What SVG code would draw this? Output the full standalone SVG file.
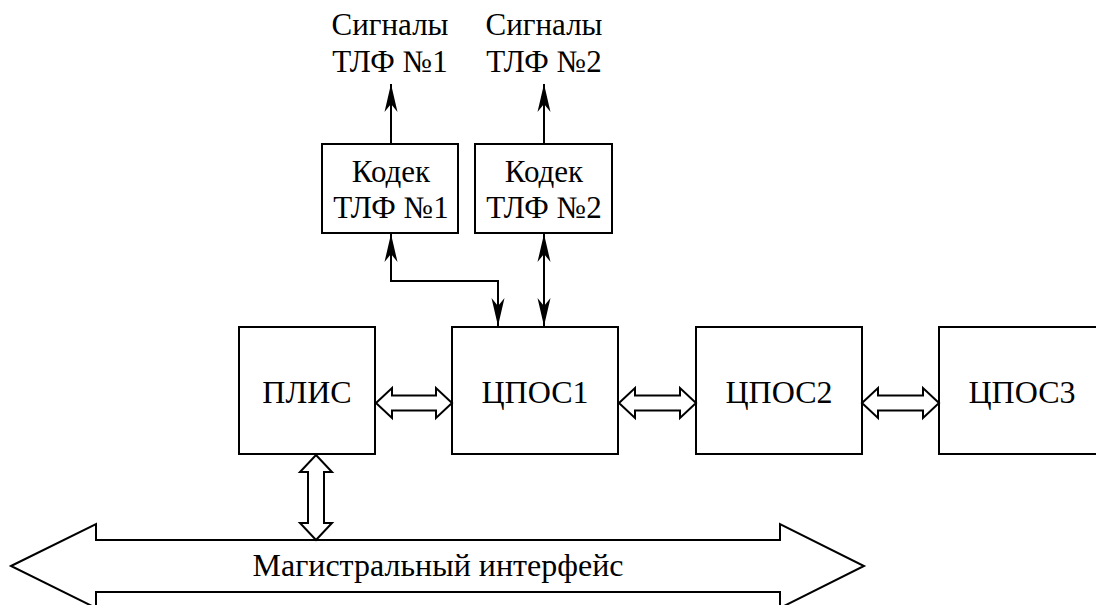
<svg xmlns="http://www.w3.org/2000/svg" width="1096" height="605" viewBox="0 0 1096 605">
<style>
.box{fill:#fff;stroke:#000;stroke-width:2}
.hol{fill:#fff;stroke:#000;stroke-width:2;stroke-linejoin:miter}
.ln{fill:none;stroke:#000;stroke-width:2}
text{font-family:'Liberation Serif','Times New Roman',serif;fill:#000;text-anchor:middle}
.big{font-size:32px}
.sm{font-size:31px}
</style>
<defs>
<marker id="ah" viewBox="0 0 28 14" refX="28" refY="7" markerWidth="28" markerHeight="14" markerUnits="userSpaceOnUse" orient="auto-start-reverse">
<path d="M28,7 L0,0.5 L8,7 L0,13.5 Z" fill="#000"/>
</marker>
</defs>
<rect width="1096" height="605" fill="#fff"/>
<g id="signals1"><text class="sm" x="390" y="35">Сигналы</text><text class="sm" x="390" y="72">ТЛФ №1</text></g>
<g id="signals2"><text class="sm" x="544" y="35">Сигналы</text><text class="sm" x="544" y="72">ТЛФ №2</text></g>
<g id="codec1"><rect class="box" x="322" y="144" width="136" height="89"/><text class="sm" x="391" y="182">Кодек</text><text class="sm" x="391" y="218">ТЛФ №1</text></g>
<g id="codec2"><rect class="box" x="475" y="144" width="137" height="89"/><text class="sm" x="544" y="182">Кодек</text><text class="sm" x="544" y="218">ТЛФ №2</text></g>
<g id="plis"><rect class="box" x="239" y="327" width="136" height="127"/><text class="big" x="307" y="403">ПЛИС</text></g>
<g id="cpos1"><rect class="box" x="452" y="327" width="166" height="127"/><text class="big" x="535" y="403">ЦПОС1</text></g>
<g id="cpos2"><rect class="box" x="696" y="327" width="166" height="127"/><text class="big" x="779" y="403">ЦПОС2</text></g>
<g id="cpos3"><rect class="box" x="939" y="327" width="166" height="127"/><text class="big" x="1022" y="403">ЦПОС3</text></g>
<g id="bus"><polygon class="hol" points="11,566 96,524 96,540 780,540 780,524 864,566 780,608 780,592 96,592 96,608"/><text class="big" x="438" y="576">Магистральный интерфейс</text></g>
<g id="connectors">
<path class="ln" d="M391,144 L391,84" marker-end="url(#ah)"/>
<path class="ln" d="M544,144 L544,84" marker-end="url(#ah)"/>
<path class="ln" d="M391,234 L391,281 L498,281 L498,326" marker-start="url(#ah)" marker-end="url(#ah)"/>
<path class="ln" d="M544,234 L544,326" marker-start="url(#ah)" marker-end="url(#ah)"/>
<polygon class="hol" points="376,403 392,388 392,395.5 436,395.5 436,388 452,403 436,418 436,410.5 392,410.5 392,418"/>
<polygon class="hol" points="619,403 635,388 635,395.5 680,395.5 680,388 696,403 680,418 680,410.5 635,410.5 635,418"/>
<polygon class="hol" points="862,403 878,388 878,395.5 923,395.5 923,388 939,403 923,418 923,410.5 878,410.5 878,418"/>
<polygon class="hol" points="316,455 332,472 324,472 324,523 332,523 316,540 300,523 308,523 308,472 300,472"/>
</g>
</svg>
